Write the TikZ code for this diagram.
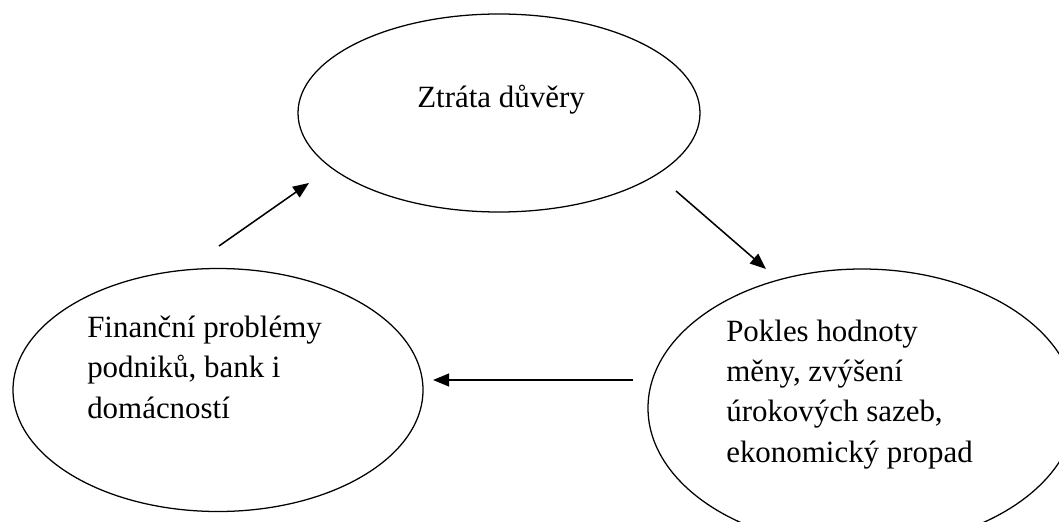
\documentclass[tikz,border=0pt]{standalone}
\usepackage{fontspec}
\setmainfont{Liberation Serif}
\usetikzlibrary{shapes.geometric,arrows.meta}
\begin{document}
\begin{tikzpicture}[bubble/.style={ellipse, draw, line width=0.9pt, inner sep=0pt},
    txt/.style={align=left, inner sep=0pt, anchor=base west, font=\fontsize{22}{28.5}\selectfont},
    arr/.style={-{Triangle[length=0.4cm,width=0.32cm]}, line width=1.1pt}]
      \useasboundingbox (0,0) rectangle (26.475,-13.05);
      \node (duvera) at (12.475,-2.825) [bubble, minimum width=10.05cm, minimum height=4.95cm] {};
      \node (finance) at (5.45,-9.75) [bubble, minimum width=10.25cm, minimum height=6.075cm] {};
      \node (pokles) at (21.55,-10.2) [bubble, minimum width=10.7cm, minimum height=6.95cm] {};
      % base = baseline of the last line
      \node (duveratxt) at (10.425,-2.675) [txt] {Ztráta důvěry};
      \node (financetxt) at (2.175,-10.45) [txt] {Finanční problémy\\ podniků, bank i\\ domácností};
      \node (poklestxt) at (18.15,-11.55) [txt] {Pokles hodnoty\\ měny, zvýšení\\ úrokových sazeb,\\ ekonomický propad};
      \coordinate (fin1) at (5.475,-6.15);
      \coordinate (duv1) at (7.725,-4.575);
      \coordinate (duv2) at (16.9,-4.775);
      \coordinate (pok1) at (19.15,-6.725);
      \coordinate (pok2) at (15.825,-9.5);
      \coordinate (fin2) at (10.825,-9.5);
      \foreach \source/\dest in {fin1/duv1, duv2/pok1, pok2/fin2}
        \draw[arr] (\source) -- (\dest);
    \end{tikzpicture}
\end{document}
